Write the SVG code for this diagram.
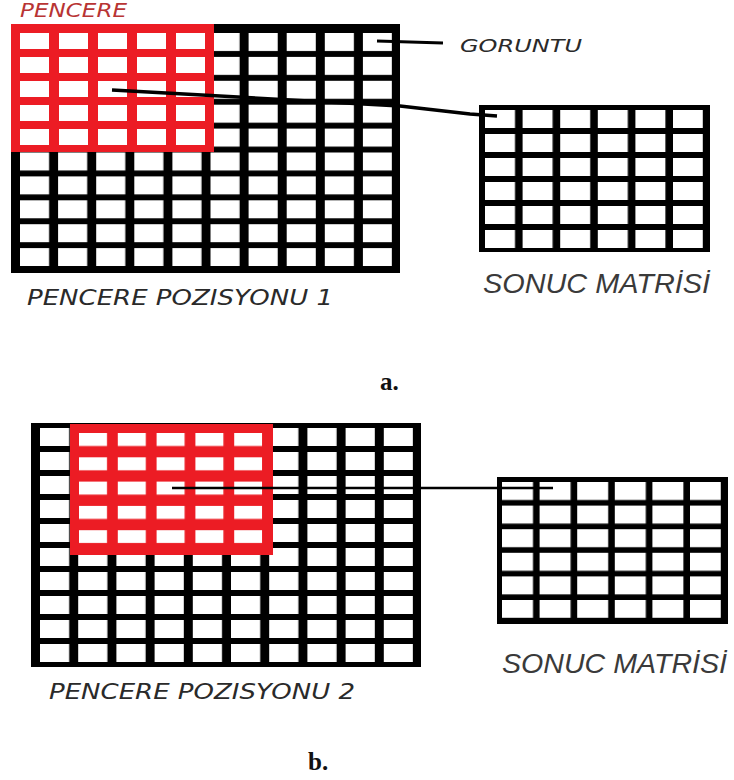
<svg xmlns="http://www.w3.org/2000/svg" width="734" height="780" viewBox="0 0 734 780">
<style>
.lbl{font-family:"DejaVu Sans","Liberation Sans",sans-serif;font-style:italic;fill:#2a2a2a}
.res{font-family:"Liberation Sans",Arial,sans-serif;font-style:italic;fill:#3a3a3a;font-size:28px}
.cap{font-family:"Liberation Serif","Times New Roman",serif;font-weight:bold;fill:#111;font-size:25px}
.blk{fill:#000}
.red{fill:#ec1c24}
.con{fill:none;stroke:#000;stroke-linejoin:round}
</style>
<defs>
<pattern id="pGA" patternUnits="userSpaceOnUse" x="20" y="33" width="38.1" height="23.9"><rect width="38.1" height="23.9" fill="#000"/><rect width="29.1" height="18" fill="#fff"/></pattern>
<pattern id="pRA" patternUnits="userSpaceOnUse" x="20" y="33" width="39" height="24"><rect width="39" height="24" fill="#ec1c24"/><rect width="29" height="16" fill="#fff"/></pattern>
<pattern id="pMA" patternUnits="userSpaceOnUse" x="485" y="110" width="37.6" height="24"><rect width="37.6" height="24" fill="#000"/><rect width="30" height="18" fill="#fff"/></pattern>
<pattern id="pGB" patternUnits="userSpaceOnUse" x="40" y="428" width="38.2" height="24"><rect width="38.2" height="24" fill="#000"/><rect width="29.2" height="18" fill="#fff"/></pattern>
<pattern id="pRB" patternUnits="userSpaceOnUse" x="79" y="433" width="38.8" height="24.3"><rect width="38.8" height="24.3" fill="#ec1c24"/><rect width="28" height="13" fill="#fff"/></pattern>
<pattern id="pMB" patternUnits="userSpaceOnUse" x="502" y="482" width="37.6" height="23.6"><rect width="37.6" height="23.6" fill="#000"/><rect width="31" height="18" fill="#fff"/></pattern>
</defs>
<rect width="734" height="780" fill="#fff"/>

<g id="goruntu-a">
<rect class="blk" x="11" y="24" width="389" height="249"/>
<rect x="20" y="33" width="372" height="233.1" fill="url(#pGA)"/>
</g>
<g id="pencere-a">
<rect class="red" x="11" y="24" width="203" height="128"/>
<rect x="20" y="33" width="185" height="112" fill="url(#pRA)"/>
</g>
<g id="sonuc-a">
<rect class="blk" x="479" y="105" width="231" height="147"/>
<rect x="485" y="110" width="218" height="138" fill="url(#pMA)"/>
</g>

<g id="goruntu-b">
<rect class="blk" x="31" y="423" width="390" height="244"/>
<rect x="40" y="428" width="373" height="234" fill="url(#pGB)"/>
</g>
<g id="pencere-b">
<rect class="red" x="70" y="424" width="203" height="131"/>
<rect x="79" y="433" width="183.2" height="110.2" fill="url(#pRB)"/>
</g>
<g id="sonuc-b">
<rect class="blk" x="497" y="477" width="231" height="147"/>
<rect x="502" y="482" width="219" height="136" fill="url(#pMB)"/>
</g>

<g id="connectors">
<polyline class="con" stroke-width="3.5" points="112,90 400,106 470,114 497,116"/>
<line class="con" stroke-width="3" x1="377" y1="41" x2="443" y2="43"/>
<line class="con" stroke-width="2.5" x1="172" y1="488" x2="553" y2="488"/>
</g>

<g id="labels">
<text class="lbl" x="20" y="17" font-size="19" style="fill:#b83434" textLength="107" lengthAdjust="spacingAndGlyphs">PENCERE</text>
<text class="lbl" x="460" y="52" font-size="18" textLength="122" lengthAdjust="spacingAndGlyphs">GORUNTU</text>
<text class="lbl" x="27" y="305" font-size="22" textLength="306" lengthAdjust="spacingAndGlyphs">PENCERE POZISYONU 1</text>
<text class="res" x="483" y="293" textLength="227" lengthAdjust="spacingAndGlyphs">SONUC MATRİSİ</text>
<text class="cap" x="380" y="390">a.</text>
<text class="lbl" x="49" y="699" font-size="22" textLength="306" lengthAdjust="spacingAndGlyphs">PENCERE POZISYONU 2</text>
<text class="res" x="502" y="673" textLength="225" lengthAdjust="spacingAndGlyphs">SONUC MATRİSİ</text>
<text class="cap" x="308" y="770">b.</text>
</g>
</svg>
